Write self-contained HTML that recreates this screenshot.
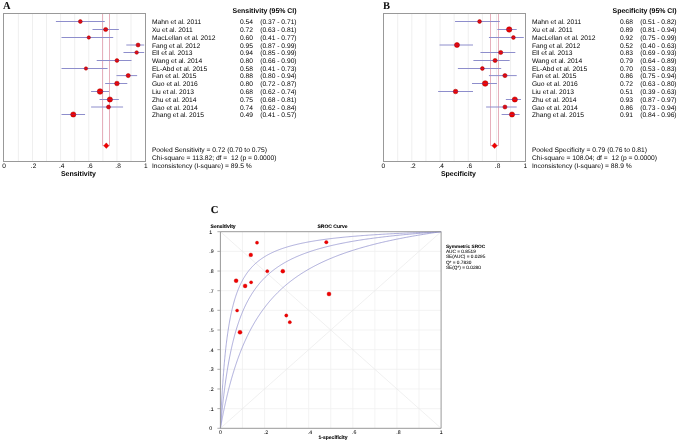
<!DOCTYPE html>
<html><head><meta charset="utf-8"><style>
html,body{margin:0;padding:0;background:#fff;}
body{width:677px;height:442px;overflow:hidden;}
svg{display:block;will-change:transform;filter:blur(0.3px);}
text{text-rendering:geometricPrecision;}
text{font-family:"Liberation Sans",sans-serif;fill:#000000;}
.lt{font-family:"Liberation Serif",serif;font-weight:bold;font-size:10.5px;fill:#111;}
.tx{font-size:6.7px;}
.hd{font-size:6.95px;font-weight:bold;text-anchor:end;}
.tk{font-size:6.5px;text-anchor:middle;}
.axl{font-size:7px;font-weight:bold;text-anchor:middle;}
.ty{font-size:5.2px;stroke:#000;stroke-width:0.04px;}
.tx2{font-size:5.2px;text-anchor:middle;stroke:#000;stroke-width:0.04px;}
.sb{font-size:5px;font-weight:bold;stroke:#000;stroke-width:0.08px;}
.lg{font-size:4.75px;stroke:#222;stroke-width:0.05px;}
</style></head><body>
<svg width="677" height="442" viewBox="0 0 677 442">
<rect width="677" height="442" fill="#fff"/>
<text x="3.0" y="8.5" class="lt">A</text>
<line x1="18.38" y1="13.5" x2="18.38" y2="161.5" stroke="#efefef" stroke-width="1"/>
<line x1="32.46" y1="13.5" x2="32.46" y2="161.5" stroke="#efefef" stroke-width="1"/>
<line x1="46.54" y1="13.5" x2="46.54" y2="161.5" stroke="#efefef" stroke-width="1"/>
<line x1="60.62" y1="13.5" x2="60.62" y2="161.5" stroke="#efefef" stroke-width="1"/>
<line x1="74.70" y1="13.5" x2="74.70" y2="161.5" stroke="#efefef" stroke-width="1"/>
<line x1="88.78" y1="13.5" x2="88.78" y2="161.5" stroke="#efefef" stroke-width="1"/>
<line x1="102.86" y1="13.5" x2="102.86" y2="161.5" stroke="#efefef" stroke-width="1"/>
<line x1="116.94" y1="13.5" x2="116.94" y2="161.5" stroke="#efefef" stroke-width="1"/>
<line x1="131.02" y1="13.5" x2="131.02" y2="161.5" stroke="#efefef" stroke-width="1"/>
<path d="M102.50 13.5 V145.7 H109.50 V13.5" fill="none" stroke="#e6b0bc" stroke-width="1"/>
<rect x="3.5" y="13.5" width="142.0" height="148.0" fill="none" stroke="#999999" stroke-width="1"/>
<line x1="56.40" y1="21.50" x2="104.27" y2="21.50" stroke="#8e8ecc" stroke-width="1" stroke-linecap="square"/>
<circle cx="80.33" cy="21.50" r="1.90" fill="#f00000" stroke="#a00000" stroke-width="0.5"/>
<line x1="78.13" y1="21.50" x2="82.53" y2="21.50" stroke="#6040a0" stroke-width="1" opacity="0.35"/>
<line x1="93.00" y1="29.50" x2="118.35" y2="29.50" stroke="#8e8ecc" stroke-width="1" stroke-linecap="square"/>
<circle cx="105.68" cy="29.50" r="2.10" fill="#f00000" stroke="#a00000" stroke-width="0.5"/>
<line x1="103.28" y1="29.50" x2="108.08" y2="29.50" stroke="#6040a0" stroke-width="1" opacity="0.35"/>
<line x1="62.03" y1="37.50" x2="112.72" y2="37.50" stroke="#8e8ecc" stroke-width="1" stroke-linecap="square"/>
<circle cx="88.78" cy="37.50" r="1.70" fill="#f00000" stroke="#a00000" stroke-width="0.5"/>
<line x1="86.78" y1="37.50" x2="90.78" y2="37.50" stroke="#6040a0" stroke-width="1" opacity="0.35"/>
<line x1="126.80" y1="45.00" x2="143.69" y2="45.00" stroke="#8e8ecc" stroke-width="1" stroke-linecap="square"/>
<circle cx="138.06" cy="45.00" r="2.00" fill="#f00000" stroke="#a00000" stroke-width="0.5"/>
<line x1="135.76" y1="45.00" x2="140.36" y2="45.00" stroke="#6040a0" stroke-width="1" opacity="0.35"/>
<line x1="123.98" y1="52.50" x2="143.69" y2="52.50" stroke="#8e8ecc" stroke-width="1" stroke-linecap="square"/>
<circle cx="136.65" cy="52.50" r="1.80" fill="#f00000" stroke="#a00000" stroke-width="0.5"/>
<line x1="134.55" y1="52.50" x2="138.75" y2="52.50" stroke="#6040a0" stroke-width="1" opacity="0.35"/>
<line x1="97.23" y1="60.50" x2="131.02" y2="60.50" stroke="#8e8ecc" stroke-width="1" stroke-linecap="square"/>
<circle cx="116.94" cy="60.50" r="1.90" fill="#f00000" stroke="#a00000" stroke-width="0.5"/>
<line x1="114.74" y1="60.50" x2="119.14" y2="60.50" stroke="#6040a0" stroke-width="1" opacity="0.35"/>
<line x1="62.03" y1="68.50" x2="107.08" y2="68.50" stroke="#8e8ecc" stroke-width="1" stroke-linecap="square"/>
<circle cx="85.96" cy="68.50" r="1.70" fill="#f00000" stroke="#a00000" stroke-width="0.5"/>
<line x1="83.96" y1="68.50" x2="87.96" y2="68.50" stroke="#6040a0" stroke-width="1" opacity="0.35"/>
<line x1="116.94" y1="75.60" x2="136.65" y2="75.60" stroke="#8e8ecc" stroke-width="1" stroke-linecap="square"/>
<circle cx="128.20" cy="75.60" r="2.10" fill="#f00000" stroke="#a00000" stroke-width="0.5"/>
<line x1="125.80" y1="75.60" x2="130.60" y2="75.60" stroke="#6040a0" stroke-width="1" opacity="0.35"/>
<line x1="105.68" y1="83.50" x2="126.80" y2="83.50" stroke="#8e8ecc" stroke-width="1" stroke-linecap="square"/>
<circle cx="116.94" cy="83.50" r="2.30" fill="#f00000" stroke="#a00000" stroke-width="0.5"/>
<line x1="114.34" y1="83.50" x2="119.54" y2="83.50" stroke="#6040a0" stroke-width="1" opacity="0.35"/>
<line x1="91.60" y1="91.50" x2="108.49" y2="91.50" stroke="#8e8ecc" stroke-width="1" stroke-linecap="square"/>
<circle cx="100.04" cy="91.50" r="2.80" fill="#f00000" stroke="#a00000" stroke-width="0.5"/>
<line x1="96.94" y1="91.50" x2="103.14" y2="91.50" stroke="#6040a0" stroke-width="1" opacity="0.35"/>
<line x1="100.04" y1="99.50" x2="118.35" y2="99.50" stroke="#8e8ecc" stroke-width="1" stroke-linecap="square"/>
<circle cx="109.90" cy="99.50" r="2.60" fill="#f00000" stroke="#a00000" stroke-width="0.5"/>
<line x1="107.00" y1="99.50" x2="112.80" y2="99.50" stroke="#6040a0" stroke-width="1" opacity="0.35"/>
<line x1="91.60" y1="107.00" x2="122.57" y2="107.00" stroke="#8e8ecc" stroke-width="1" stroke-linecap="square"/>
<circle cx="108.49" cy="107.00" r="2.00" fill="#f00000" stroke="#a00000" stroke-width="0.5"/>
<line x1="106.19" y1="107.00" x2="110.79" y2="107.00" stroke="#6040a0" stroke-width="1" opacity="0.35"/>
<line x1="62.03" y1="114.50" x2="84.56" y2="114.50" stroke="#8e8ecc" stroke-width="1" stroke-linecap="square"/>
<circle cx="73.29" cy="114.50" r="2.60" fill="#f00000" stroke="#a00000" stroke-width="0.5"/>
<line x1="70.39" y1="114.50" x2="76.19" y2="114.50" stroke="#6040a0" stroke-width="1" opacity="0.35"/>
<path d="M103.65 145.7 L106.30 142.85 L108.95 145.7 L106.30 148.54999999999998 Z" fill="#f00000" stroke="#c00000" stroke-width="0.3"/>
<text x="4.10" y="167.8" class="tk">0</text>
<text x="33.56" y="167.8" class="tk">.2</text>
<text x="61.72" y="167.8" class="tk">.4</text>
<text x="89.88" y="167.8" class="tk">.6</text>
<text x="118.04" y="167.8" class="tk">.8</text>
<text x="145.70" y="167.8" class="tk">1</text>
<text x="78.40" y="175.6" class="axl">Sensitivity</text>
<text x="296.6" y="12.9" class="hd">Sensitivity (95% CI)</text>
<text x="151.9" y="24.10" class="tx">Mahn et al. 2011</text>
<text x="239.9" y="24.10" class="tx">0.54</text>
<text x="296.6" y="24.10" class="tx" text-anchor="end">(0.37 - 0.71)</text>
<text x="151.9" y="32.10" class="tx">Xu et al. 2011</text>
<text x="239.9" y="32.10" class="tx">0.72</text>
<text x="296.6" y="32.10" class="tx" text-anchor="end">(0.63 - 0.81)</text>
<text x="151.9" y="40.10" class="tx">MacLellan et al. 2012</text>
<text x="239.9" y="40.10" class="tx">0.60</text>
<text x="296.6" y="40.10" class="tx" text-anchor="end">(0.41 - 0.77)</text>
<text x="151.9" y="47.60" class="tx">Fang et al. 2012</text>
<text x="239.9" y="47.60" class="tx">0.95</text>
<text x="296.6" y="47.60" class="tx" text-anchor="end">(0.87 - 0.99)</text>
<text x="151.9" y="55.10" class="tx">Ell et al. 2013</text>
<text x="239.9" y="55.10" class="tx">0.94</text>
<text x="296.6" y="55.10" class="tx" text-anchor="end">(0.85 - 0.99)</text>
<text x="151.9" y="63.10" class="tx">Wang et al. 2014</text>
<text x="239.9" y="63.10" class="tx">0.80</text>
<text x="296.6" y="63.10" class="tx" text-anchor="end">(0.66 - 0.90)</text>
<text x="151.9" y="71.10" class="tx">EL-Abd et al. 2015</text>
<text x="239.9" y="71.10" class="tx">0.58</text>
<text x="296.6" y="71.10" class="tx" text-anchor="end">(0.41 - 0.73)</text>
<text x="151.9" y="78.20" class="tx">Fan et al. 2015</text>
<text x="239.9" y="78.20" class="tx">0.88</text>
<text x="296.6" y="78.20" class="tx" text-anchor="end">(0.80 - 0.94)</text>
<text x="151.9" y="86.10" class="tx">Guo et al. 2016</text>
<text x="239.9" y="86.10" class="tx">0.80</text>
<text x="296.6" y="86.10" class="tx" text-anchor="end">(0.72 - 0.87)</text>
<text x="151.9" y="94.10" class="tx">Liu et al. 2013</text>
<text x="239.9" y="94.10" class="tx">0.68</text>
<text x="296.6" y="94.10" class="tx" text-anchor="end">(0.62 - 0.74)</text>
<text x="151.9" y="102.10" class="tx">Zhu et al. 2014</text>
<text x="239.9" y="102.10" class="tx">0.75</text>
<text x="296.6" y="102.10" class="tx" text-anchor="end">(0.68 - 0.81)</text>
<text x="151.9" y="109.60" class="tx">Gao et al. 2014</text>
<text x="239.9" y="109.60" class="tx">0.74</text>
<text x="296.6" y="109.60" class="tx" text-anchor="end">(0.62 - 0.84)</text>
<text x="151.9" y="117.10" class="tx">Zhang et al. 2015</text>
<text x="239.9" y="117.10" class="tx">0.49</text>
<text x="296.6" y="117.10" class="tx" text-anchor="end">(0.41 - 0.57)</text>
<text x="151.9" y="152" class="tx">Pooled Sensitivity = 0.72 (0.70 to 0.75)</text>
<text x="151.9" y="159.8" class="tx" xml:space="preserve">Chi-square = 113.82; df =  12 (p = 0.0000)</text>
<text x="151.9" y="167.5" class="tx">Inconsistency (I-square) = 89.5 %</text>
<text x="383.0" y="8.5" class="lt">B</text>
<line x1="397.71" y1="13.5" x2="397.71" y2="161.5" stroke="#efefef" stroke-width="1"/>
<line x1="411.82" y1="13.5" x2="411.82" y2="161.5" stroke="#efefef" stroke-width="1"/>
<line x1="425.93" y1="13.5" x2="425.93" y2="161.5" stroke="#efefef" stroke-width="1"/>
<line x1="440.04" y1="13.5" x2="440.04" y2="161.5" stroke="#efefef" stroke-width="1"/>
<line x1="454.15" y1="13.5" x2="454.15" y2="161.5" stroke="#efefef" stroke-width="1"/>
<line x1="468.26" y1="13.5" x2="468.26" y2="161.5" stroke="#efefef" stroke-width="1"/>
<line x1="482.37" y1="13.5" x2="482.37" y2="161.5" stroke="#efefef" stroke-width="1"/>
<line x1="496.48" y1="13.5" x2="496.48" y2="161.5" stroke="#efefef" stroke-width="1"/>
<line x1="510.59" y1="13.5" x2="510.59" y2="161.5" stroke="#efefef" stroke-width="1"/>
<path d="M490.50 13.5 V145.7 H498.50 V13.5" fill="none" stroke="#e6b0bc" stroke-width="1"/>
<rect x="383.5" y="13.5" width="142.0" height="148.0" fill="none" stroke="#999999" stroke-width="1"/>
<line x1="455.56" y1="21.50" x2="499.30" y2="21.50" stroke="#8e8ecc" stroke-width="1" stroke-linecap="square"/>
<circle cx="479.55" cy="21.50" r="1.90" fill="#f00000" stroke="#a00000" stroke-width="0.5"/>
<line x1="477.35" y1="21.50" x2="481.75" y2="21.50" stroke="#6040a0" stroke-width="1" opacity="0.35"/>
<line x1="497.89" y1="29.50" x2="516.23" y2="29.50" stroke="#8e8ecc" stroke-width="1" stroke-linecap="square"/>
<circle cx="509.18" cy="29.50" r="2.70" fill="#f00000" stroke="#a00000" stroke-width="0.5"/>
<line x1="506.18" y1="29.50" x2="512.18" y2="29.50" stroke="#6040a0" stroke-width="1" opacity="0.35"/>
<line x1="489.43" y1="37.50" x2="523.29" y2="37.50" stroke="#8e8ecc" stroke-width="1" stroke-linecap="square"/>
<circle cx="513.41" cy="37.50" r="1.90" fill="#f00000" stroke="#a00000" stroke-width="0.5"/>
<line x1="511.21" y1="37.50" x2="515.61" y2="37.50" stroke="#6040a0" stroke-width="1" opacity="0.35"/>
<line x1="440.04" y1="45.00" x2="472.49" y2="45.00" stroke="#8e8ecc" stroke-width="1" stroke-linecap="square"/>
<circle cx="456.97" cy="45.00" r="2.50" fill="#f00000" stroke="#a00000" stroke-width="0.5"/>
<line x1="454.17" y1="45.00" x2="459.77" y2="45.00" stroke="#6040a0" stroke-width="1" opacity="0.35"/>
<line x1="480.96" y1="52.50" x2="514.82" y2="52.50" stroke="#8e8ecc" stroke-width="1" stroke-linecap="square"/>
<circle cx="500.71" cy="52.50" r="2.10" fill="#f00000" stroke="#a00000" stroke-width="0.5"/>
<line x1="498.31" y1="52.50" x2="503.11" y2="52.50" stroke="#6040a0" stroke-width="1" opacity="0.35"/>
<line x1="473.90" y1="60.50" x2="509.18" y2="60.50" stroke="#8e8ecc" stroke-width="1" stroke-linecap="square"/>
<circle cx="495.07" cy="60.50" r="2.10" fill="#f00000" stroke="#a00000" stroke-width="0.5"/>
<line x1="492.67" y1="60.50" x2="497.47" y2="60.50" stroke="#6040a0" stroke-width="1" opacity="0.35"/>
<line x1="458.38" y1="68.50" x2="500.71" y2="68.50" stroke="#8e8ecc" stroke-width="1" stroke-linecap="square"/>
<circle cx="482.37" cy="68.50" r="1.90" fill="#f00000" stroke="#a00000" stroke-width="0.5"/>
<line x1="480.17" y1="68.50" x2="484.57" y2="68.50" stroke="#6040a0" stroke-width="1" opacity="0.35"/>
<line x1="489.43" y1="75.60" x2="516.23" y2="75.60" stroke="#8e8ecc" stroke-width="1" stroke-linecap="square"/>
<circle cx="504.95" cy="75.60" r="2.10" fill="#f00000" stroke="#a00000" stroke-width="0.5"/>
<line x1="502.55" y1="75.60" x2="507.35" y2="75.60" stroke="#6040a0" stroke-width="1" opacity="0.35"/>
<line x1="472.49" y1="83.50" x2="496.48" y2="83.50" stroke="#8e8ecc" stroke-width="1" stroke-linecap="square"/>
<circle cx="485.19" cy="83.50" r="2.80" fill="#f00000" stroke="#a00000" stroke-width="0.5"/>
<line x1="482.09" y1="83.50" x2="488.29" y2="83.50" stroke="#6040a0" stroke-width="1" opacity="0.35"/>
<line x1="438.63" y1="91.50" x2="472.49" y2="91.50" stroke="#8e8ecc" stroke-width="1" stroke-linecap="square"/>
<circle cx="455.56" cy="91.50" r="2.30" fill="#f00000" stroke="#a00000" stroke-width="0.5"/>
<line x1="452.96" y1="91.50" x2="458.16" y2="91.50" stroke="#6040a0" stroke-width="1" opacity="0.35"/>
<line x1="506.36" y1="99.50" x2="520.47" y2="99.50" stroke="#8e8ecc" stroke-width="1" stroke-linecap="square"/>
<circle cx="514.82" cy="99.50" r="2.60" fill="#f00000" stroke="#a00000" stroke-width="0.5"/>
<line x1="511.92" y1="99.50" x2="517.72" y2="99.50" stroke="#6040a0" stroke-width="1" opacity="0.35"/>
<line x1="486.60" y1="107.00" x2="516.23" y2="107.00" stroke="#8e8ecc" stroke-width="1" stroke-linecap="square"/>
<circle cx="504.95" cy="107.00" r="2.00" fill="#f00000" stroke="#a00000" stroke-width="0.5"/>
<line x1="502.65" y1="107.00" x2="507.25" y2="107.00" stroke="#6040a0" stroke-width="1" opacity="0.35"/>
<line x1="502.12" y1="114.50" x2="519.06" y2="114.50" stroke="#8e8ecc" stroke-width="1" stroke-linecap="square"/>
<circle cx="512.00" cy="114.50" r="2.60" fill="#f00000" stroke="#a00000" stroke-width="0.5"/>
<line x1="509.10" y1="114.50" x2="514.90" y2="114.50" stroke="#6040a0" stroke-width="1" opacity="0.35"/>
<path d="M491.95 145.7 L494.60 142.85 L497.25 145.7 L494.60 148.54999999999998 Z" fill="#f00000" stroke="#c00000" stroke-width="0.3"/>
<text x="383.40" y="167.8" class="tk">0</text>
<text x="412.92" y="167.8" class="tk">.2</text>
<text x="441.14" y="167.8" class="tk">.4</text>
<text x="469.36" y="167.8" class="tk">.6</text>
<text x="497.58" y="167.8" class="tk">.8</text>
<text x="525.30" y="167.8" class="tk">1</text>
<text x="458.40" y="175.6" class="axl">Specificity</text>
<text x="676.6" y="12.9" class="hd">Specificity (95% CI)</text>
<text x="531.9" y="24.10" class="tx">Mahn et al. 2011</text>
<text x="619.9" y="24.10" class="tx">0.68</text>
<text x="676.6" y="24.10" class="tx" text-anchor="end">(0.51 - 0.82)</text>
<text x="531.9" y="32.10" class="tx">Xu et al. 2011</text>
<text x="619.9" y="32.10" class="tx">0.89</text>
<text x="676.6" y="32.10" class="tx" text-anchor="end">(0.81 - 0.94)</text>
<text x="531.9" y="40.10" class="tx">MacLellan et al. 2012</text>
<text x="619.9" y="40.10" class="tx">0.92</text>
<text x="676.6" y="40.10" class="tx" text-anchor="end">(0.75 - 0.99)</text>
<text x="531.9" y="47.60" class="tx">Fang et al. 2012</text>
<text x="619.9" y="47.60" class="tx">0.52</text>
<text x="676.6" y="47.60" class="tx" text-anchor="end">(0.40 - 0.63)</text>
<text x="531.9" y="55.10" class="tx">Ell et al. 2013</text>
<text x="619.9" y="55.10" class="tx">0.83</text>
<text x="676.6" y="55.10" class="tx" text-anchor="end">(0.69 - 0.93)</text>
<text x="531.9" y="63.10" class="tx">Wang et al. 2014</text>
<text x="619.9" y="63.10" class="tx">0.79</text>
<text x="676.6" y="63.10" class="tx" text-anchor="end">(0.64 - 0.89)</text>
<text x="531.9" y="71.10" class="tx">EL-Abd et al. 2015</text>
<text x="619.9" y="71.10" class="tx">0.70</text>
<text x="676.6" y="71.10" class="tx" text-anchor="end">(0.53 - 0.83)</text>
<text x="531.9" y="78.20" class="tx">Fan et al. 2015</text>
<text x="619.9" y="78.20" class="tx">0.86</text>
<text x="676.6" y="78.20" class="tx" text-anchor="end">(0.75 - 0.94)</text>
<text x="531.9" y="86.10" class="tx">Guo et al. 2016</text>
<text x="619.9" y="86.10" class="tx">0.72</text>
<text x="676.6" y="86.10" class="tx" text-anchor="end">(0.63 - 0.80)</text>
<text x="531.9" y="94.10" class="tx">Liu et al. 2013</text>
<text x="619.9" y="94.10" class="tx">0.51</text>
<text x="676.6" y="94.10" class="tx" text-anchor="end">(0.39 - 0.63)</text>
<text x="531.9" y="102.10" class="tx">Zhu et al. 2014</text>
<text x="619.9" y="102.10" class="tx">0.93</text>
<text x="676.6" y="102.10" class="tx" text-anchor="end">(0.87 - 0.97)</text>
<text x="531.9" y="109.60" class="tx">Gao et al. 2014</text>
<text x="619.9" y="109.60" class="tx">0.86</text>
<text x="676.6" y="109.60" class="tx" text-anchor="end">(0.73 - 0.94)</text>
<text x="531.9" y="117.10" class="tx">Zhang et al. 2015</text>
<text x="619.9" y="117.10" class="tx">0.91</text>
<text x="676.6" y="117.10" class="tx" text-anchor="end">(0.84 - 0.96)</text>
<text x="531.9" y="152" class="tx">Pooled Specificity = 0.79 (0.76 to 0.81)</text>
<text x="531.9" y="159.8" class="tx" xml:space="preserve">Chi-square = 108.04; df =  12 (p = 0.0000)</text>
<text x="531.9" y="167.5" class="tx">Inconsistency (I-square) = 88.9 %</text>
<text x="210.7" y="213.0" class="lt" stroke="#111" stroke-width="0.15">C</text>
<line x1="242.47" y1="231.7" x2="242.47" y2="428.3" stroke="#f0f0f0" stroke-width="0.8"/>
<line x1="220.4" y1="408.64" x2="441.1" y2="408.64" stroke="#f0f0f0" stroke-width="0.8"/>
<line x1="264.54" y1="231.7" x2="264.54" y2="428.3" stroke="#f0f0f0" stroke-width="0.8"/>
<line x1="220.4" y1="388.98" x2="441.1" y2="388.98" stroke="#f0f0f0" stroke-width="0.8"/>
<line x1="286.61" y1="231.7" x2="286.61" y2="428.3" stroke="#f0f0f0" stroke-width="0.8"/>
<line x1="220.4" y1="369.32" x2="441.1" y2="369.32" stroke="#f0f0f0" stroke-width="0.8"/>
<line x1="308.68" y1="231.7" x2="308.68" y2="428.3" stroke="#f0f0f0" stroke-width="0.8"/>
<line x1="220.4" y1="349.66" x2="441.1" y2="349.66" stroke="#f0f0f0" stroke-width="0.8"/>
<line x1="330.75" y1="231.7" x2="330.75" y2="428.3" stroke="#f0f0f0" stroke-width="0.8"/>
<line x1="220.4" y1="330.00" x2="441.1" y2="330.00" stroke="#f0f0f0" stroke-width="0.8"/>
<line x1="352.82" y1="231.7" x2="352.82" y2="428.3" stroke="#f0f0f0" stroke-width="0.8"/>
<line x1="220.4" y1="310.34" x2="441.1" y2="310.34" stroke="#f0f0f0" stroke-width="0.8"/>
<line x1="374.89" y1="231.7" x2="374.89" y2="428.3" stroke="#f0f0f0" stroke-width="0.8"/>
<line x1="220.4" y1="290.68" x2="441.1" y2="290.68" stroke="#f0f0f0" stroke-width="0.8"/>
<line x1="396.96" y1="231.7" x2="396.96" y2="428.3" stroke="#f0f0f0" stroke-width="0.8"/>
<line x1="220.4" y1="271.02" x2="441.1" y2="271.02" stroke="#f0f0f0" stroke-width="0.8"/>
<line x1="419.03" y1="231.7" x2="419.03" y2="428.3" stroke="#f0f0f0" stroke-width="0.8"/>
<line x1="220.4" y1="251.36" x2="441.1" y2="251.36" stroke="#f0f0f0" stroke-width="0.8"/>
<line x1="220.4" y1="428.3" x2="441.1" y2="231.7" stroke="#e6e6e6" stroke-width="0.6"/>
<line x1="220.4" y1="231.7" x2="441.1" y2="428.3" stroke="#e6e6e6" stroke-width="0.6"/>
<polyline points="220.40,428.30 220.40,428.30 220.40,428.30 220.40,428.30 220.40,428.30 220.40,428.30 220.40,428.30 220.40,428.29 220.40,428.29 220.40,428.29 220.40,428.28 220.40,428.27 220.41,428.27 220.41,428.26 220.41,428.25 220.41,428.23 220.41,428.22 220.42,428.20 220.42,428.19 220.42,428.17 220.43,428.14 220.43,428.12 220.44,428.09 220.44,428.06 220.45,428.03 220.45,428.00 220.46,427.96 220.47,427.92 220.48,427.87 220.48,427.82 220.49,427.77 220.50,427.72 220.51,427.66 220.52,427.60 220.54,427.53 220.55,427.47 220.56,427.39 220.57,427.31 220.59,427.23 220.60,427.15 220.62,427.06 220.64,426.96 220.66,426.86 220.67,426.76 220.69,426.65 220.71,426.53 220.74,426.41 220.76,426.29 220.78,426.16 220.81,426.02 220.83,425.88 220.86,425.74 220.88,425.58 220.91,425.43 220.94,425.26 220.97,425.09 221.01,424.92 221.04,424.74 221.07,424.55 221.11,424.36 221.14,424.16 221.18,423.95 221.22,423.74 221.26,423.52 221.30,423.29 221.35,423.06 221.39,422.82 221.44,422.57 221.48,422.31 221.53,422.05 221.58,421.79 221.63,421.51 221.69,421.23 221.74,420.94 221.80,420.64 221.85,420.34 221.91,420.03 221.97,419.71 222.04,419.38 222.10,419.05 222.17,418.71 222.23,418.36 222.30,418.00 222.37,417.64 222.44,417.27 222.52,416.89 222.59,416.50 222.67,416.11 222.75,415.71 222.83,415.30 222.91,414.88 223.00,414.45 223.09,414.02 223.17,413.58 223.26,413.13 223.36,412.67 223.45,412.21 223.55,411.74 223.65,411.26 223.75,410.77 223.85,410.27 223.95,409.77 224.06,409.26 224.17,408.74 224.28,408.22 224.39,407.68 224.51,407.14 224.62,406.59 224.74,406.04 224.87,405.48 224.99,404.90 225.12,404.33 225.24,403.74 225.38,403.15 225.51,402.55 225.64,401.94 225.78,401.33 225.92,400.71 226.07,400.08 226.21,399.45 226.36,398.81 226.51,398.16 226.66,397.51 226.82,396.85 226.97,396.18 227.14,395.51 227.30,394.83 227.46,394.14 227.63,393.45 227.80,392.75 227.98,392.05 228.15,391.34 228.33,390.62 228.51,389.90 228.70,389.18 228.88,388.44 229.07,387.71 229.27,386.97 229.46,386.22 229.66,385.47 229.86,384.71 230.07,383.95 230.27,383.18 230.48,382.41 230.70,381.63 230.91,380.85 231.13,380.07 231.35,379.28 231.58,378.49 231.81,377.69 232.04,376.89 232.27,376.09 232.51,375.28 232.75,374.47 232.99,373.66 233.24,372.84 233.49,372.02 233.75,371.20 234.00,370.38 234.26,369.55 234.52,368.72 234.79,367.88 235.06,367.05 235.33,366.21 235.61,365.37 235.89,364.53 236.17,363.69 236.46,362.84 236.75,361.99 237.04,361.15 237.34,360.30 237.64,359.45 237.95,358.59 238.26,357.74 238.57,356.89 238.88,356.03 239.20,355.18 239.52,354.32 239.85,353.46 240.18,352.61 240.51,351.75 240.85,350.89 241.19,350.04 241.53,349.18 241.88,348.32 242.23,347.46 242.59,346.61 242.95,345.75 243.31,344.90 243.68,344.04 244.05,343.19 244.43,342.34 244.81,341.48 245.19,340.63 245.58,339.78 245.97,338.93 246.37,338.09 246.76,337.24 247.17,336.39 247.58,335.55 247.99,334.71 248.40,333.87 248.82,333.03 249.25,332.20 249.68,331.36 250.11,330.53 250.55,329.70 250.99,328.87 251.43,328.05 251.88,327.22 252.34,326.40 252.79,325.58 253.26,324.77 253.72,323.95 254.20,323.14 254.67,322.33 255.15,321.53 255.64,320.73 256.13,319.93 256.62,319.13 257.12,318.33 257.62,317.54 258.13,316.76 258.64,315.97 259.16,315.19 259.68,314.41 260.21,313.63 260.74,312.86 261.27,312.09 261.81,311.33 262.36,310.56 262.91,309.81 263.46,309.05 264.02,308.30 264.58,307.55 265.15,306.80 265.73,306.06 266.31,305.33 266.89,304.59 267.48,303.86 268.07,303.13 268.67,302.41 269.27,301.69 269.88,300.98 270.49,300.26 271.11,299.55 271.74,298.85 272.37,298.15 273.00,297.45 273.64,296.76 274.28,296.07 274.93,295.38 275.59,294.70 276.24,294.03 276.91,293.35 277.58,292.68 278.26,292.02 278.94,291.35 279.62,290.70 280.31,290.04 281.01,289.39 281.71,288.74 282.42,288.10 283.13,287.46 283.85,286.83 284.57,286.20 285.30,285.57 286.04,284.95 286.78,284.33 287.52,283.71 288.28,283.10 289.03,282.50 289.80,281.89 290.56,281.29 291.34,280.70 292.12,280.11 292.90,279.52 293.69,278.93 294.49,278.35 295.29,277.78 296.10,277.21 296.91,276.64 297.73,276.07 298.56,275.51 299.39,274.96 300.23,274.40 301.07,273.85 301.92,273.31 302.78,272.77 303.64,272.23 304.50,271.69 305.38,271.16 306.26,270.64 307.14,270.11 308.03,269.59 308.93,269.08 309.83,268.56 310.74,268.06 311.66,267.55 312.58,267.05 313.51,266.55 314.44,266.06 315.38,265.57 316.33,265.08 317.28,264.60 318.24,264.12 319.21,263.64 320.18,263.17 321.16,262.70 322.14,262.23 323.13,261.77 324.13,261.31 325.13,260.85 326.14,260.40 327.16,259.95 328.18,259.50 329.21,259.06 330.25,258.62 331.29,258.19 332.34,257.75 333.40,257.32 334.46,256.90 335.53,256.47 336.61,256.05 337.69,255.64 338.78,255.22 339.87,254.81 340.98,254.40 342.09,254.00 343.20,253.60 344.33,253.20 345.46,252.80 346.59,252.41 347.74,252.02 348.89,251.64 350.05,251.25 351.21,250.87 352.38,250.49 353.56,250.12 354.74,249.75 355.94,249.38 357.14,249.01 358.34,248.65 359.56,248.29 360.78,247.93 362.01,247.57 363.24,247.22 364.48,246.87 365.73,246.52 366.99,246.18 368.25,245.84 369.52,245.50 370.80,245.16 372.09,244.83 373.38,244.49 374.68,244.16 375.99,243.84 377.30,243.51 378.62,243.19 379.95,242.87 381.29,242.56 382.63,242.24 383.99,241.93 385.35,241.62 386.71,241.31 388.09,241.01 389.47,240.71 390.86,240.41 392.26,240.11 393.66,239.81 395.07,239.52 396.49,239.23 397.92,238.94 399.36,238.66 400.80,238.37 402.25,238.09 403.71,237.81 405.18,237.53 406.65,237.26 408.13,236.98 409.62,236.71 411.12,236.44 412.63,236.17 414.14,235.91 415.66,235.65 417.19,235.39 418.73,235.13 420.27,234.87 421.83,234.61 423.39,234.36 424.96,234.11 426.54,233.86 428.12,233.61 429.71,233.37 431.32,233.12 432.93,232.88 434.54,232.64 436.17,232.40 437.81,232.17 439.45,231.93 441.10,231.70" fill="none" stroke="#8282c8" stroke-width="0.65"/>
<polyline points="220.40,428.30 220.40,428.30 220.40,428.30 220.40,428.30 220.40,428.30 220.40,428.30 220.40,428.29 220.40,428.29 220.40,428.28 220.40,428.27 220.40,428.26 220.40,428.25 220.41,428.23 220.41,428.21 220.41,428.19 220.41,428.17 220.41,428.14 220.42,428.10 220.42,428.07 220.42,428.03 220.43,427.98 220.43,427.93 220.44,427.88 220.44,427.81 220.45,427.75 220.45,427.68 220.46,427.60 220.47,427.52 220.48,427.43 220.48,427.33 220.49,427.23 220.50,427.12 220.51,427.00 220.52,426.87 220.54,426.74 220.55,426.60 220.56,426.45 220.57,426.29 220.59,426.13 220.60,425.95 220.62,425.77 220.64,425.58 220.66,425.38 220.67,425.17 220.69,424.95 220.71,424.72 220.74,424.48 220.76,424.23 220.78,423.97 220.81,423.70 220.83,423.42 220.86,423.13 220.88,422.82 220.91,422.51 220.94,422.19 220.97,421.85 221.01,421.50 221.04,421.15 221.07,420.78 221.11,420.39 221.14,420.00 221.18,419.60 221.22,419.18 221.26,418.75 221.30,418.31 221.35,417.86 221.39,417.40 221.44,416.92 221.48,416.43 221.53,415.93 221.58,415.42 221.63,414.89 221.69,414.36 221.74,413.81 221.80,413.25 221.85,412.67 221.91,412.09 221.97,411.49 222.04,410.88 222.10,410.26 222.17,409.63 222.23,408.98 222.30,408.33 222.37,407.66 222.44,406.98 222.52,406.29 222.59,405.58 222.67,404.87 222.75,404.15 222.83,403.41 222.91,402.67 223.00,401.91 223.09,401.14 223.17,400.36 223.26,399.57 223.36,398.78 223.45,397.97 223.55,397.15 223.65,396.32 223.75,395.49 223.85,394.64 223.95,393.79 224.06,392.92 224.17,392.05 224.28,391.17 224.39,390.28 224.51,389.39 224.62,388.48 224.74,387.57 224.87,386.65 224.99,385.73 225.12,384.80 225.24,383.86 225.38,382.91 225.51,381.96 225.64,381.00 225.78,380.04 225.92,379.07 226.07,378.10 226.21,377.12 226.36,376.14 226.51,375.15 226.66,374.16 226.82,373.17 226.97,372.17 227.14,371.17 227.30,370.16 227.46,369.15 227.63,368.14 227.80,367.13 227.98,366.12 228.15,365.10 228.33,364.08 228.51,363.06 228.70,362.04 228.88,361.02 229.07,359.99 229.27,358.97 229.46,357.95 229.66,356.92 229.86,355.90 230.07,354.87 230.27,353.85 230.48,352.83 230.70,351.81 230.91,350.79 231.13,349.77 231.35,348.75 231.58,347.73 231.81,346.72 232.04,345.71 232.27,344.70 232.51,343.69 232.75,342.68 232.99,341.68 233.24,340.68 233.49,339.68 233.75,338.69 234.00,337.70 234.26,336.71 234.52,335.73 234.79,334.75 235.06,333.78 235.33,332.80 235.61,331.84 235.89,330.87 236.17,329.92 236.46,328.96 236.75,328.01 237.04,327.07 237.34,326.13 237.64,325.19 237.95,324.26 238.26,323.33 238.57,322.41 238.88,321.50 239.20,320.59 239.52,319.68 239.85,318.78 240.18,317.89 240.51,317.00 240.85,316.12 241.19,315.24 241.53,314.37 241.88,313.50 242.23,312.64 242.59,311.79 242.95,310.94 243.31,310.10 243.68,309.26 244.05,308.43 244.43,307.61 244.81,306.79 245.19,305.98 245.58,305.17 245.97,304.37 246.37,303.58 246.76,302.79 247.17,302.01 247.58,301.23 247.99,300.46 248.40,299.70 248.82,298.94 249.25,298.19 249.68,297.45 250.11,296.71 250.55,295.97 250.99,295.25 251.43,294.53 251.88,293.81 252.34,293.10 252.79,292.40 253.26,291.71 253.72,291.02 254.20,290.33 254.67,289.65 255.15,288.98 255.64,288.32 256.13,287.66 256.62,287.00 257.12,286.35 257.62,285.71 258.13,285.07 258.64,284.44 259.16,283.82 259.68,283.20 260.21,282.58 260.74,281.98 261.27,281.37 261.81,280.78 262.36,280.19 262.91,279.60 263.46,279.02 264.02,278.45 264.58,277.88 265.15,277.31 265.73,276.76 266.31,276.20 266.89,275.65 267.48,275.11 268.07,274.58 268.67,274.04 269.27,273.52 269.88,272.99 270.49,272.48 271.11,271.97 271.74,271.46 272.37,270.96 273.00,270.46 273.64,269.97 274.28,269.48 274.93,269.00 275.59,268.52 276.24,268.05 276.91,267.58 277.58,267.12 278.26,266.66 278.94,266.21 279.62,265.76 280.31,265.31 281.01,264.87 281.71,264.43 282.42,264.00 283.13,263.57 283.85,263.15 284.57,262.73 285.30,262.32 286.04,261.91 286.78,261.50 287.52,261.10 288.28,260.70 289.03,260.30 289.80,259.91 290.56,259.53 291.34,259.14 292.12,258.76 292.90,258.39 293.69,258.02 294.49,257.65 295.29,257.28 296.10,256.92 296.91,256.57 297.73,256.21 298.56,255.86 299.39,255.52 300.23,255.18 301.07,254.84 301.92,254.50 302.78,254.17 303.64,253.84 304.50,253.51 305.38,253.19 306.26,252.87 307.14,252.56 308.03,252.24 308.93,251.93 309.83,251.63 310.74,251.32 311.66,251.02 312.58,250.72 313.51,250.43 314.44,250.14 315.38,249.85 316.33,249.56 317.28,249.28 318.24,249.00 319.21,248.72 320.18,248.45 321.16,248.18 322.14,247.91 323.13,247.64 324.13,247.38 325.13,247.12 326.14,246.86 327.16,246.60 328.18,246.35 329.21,246.10 330.25,245.85 331.29,245.60 332.34,245.36 333.40,245.12 334.46,244.88 335.53,244.64 336.61,244.41 337.69,244.17 338.78,243.94 339.87,243.72 340.98,243.49 342.09,243.27 343.20,243.05 344.33,242.83 345.46,242.61 346.59,242.40 347.74,242.19 348.89,241.98 350.05,241.77 351.21,241.56 352.38,241.36 353.56,241.15 354.74,240.95 355.94,240.76 357.14,240.56 358.34,240.36 359.56,240.17 360.78,239.98 362.01,239.79 363.24,239.60 364.48,239.42 365.73,239.23 366.99,239.05 368.25,238.87 369.52,238.69 370.80,238.52 372.09,238.34 373.38,238.17 374.68,238.00 375.99,237.83 377.30,237.66 378.62,237.49 379.95,237.32 381.29,237.16 382.63,237.00 383.99,236.84 385.35,236.68 386.71,236.52 388.09,236.36 389.47,236.21 390.86,236.05 392.26,235.90 393.66,235.75 395.07,235.60 396.49,235.45 397.92,235.31 399.36,235.16 400.80,235.02 402.25,234.88 403.71,234.73 405.18,234.59 406.65,234.46 408.13,234.32 409.62,234.18 411.12,234.05 412.63,233.91 414.14,233.78 415.66,233.65 417.19,233.52 418.73,233.39 420.27,233.26 421.83,233.13 423.39,233.01 424.96,232.88 426.54,232.76 428.12,232.64 429.71,232.52 431.32,232.40 432.93,232.28 434.54,232.16 436.17,232.04 437.81,231.93 439.45,231.81 441.10,231.70" fill="none" stroke="#8282c8" stroke-width="0.65"/>
<polyline points="220.40,428.30 220.40,428.30 220.40,428.30 220.40,428.30 220.40,428.29 220.40,428.29 220.40,428.28 220.40,428.27 220.40,428.26 220.40,428.24 220.40,428.22 220.40,428.19 220.41,428.15 220.41,428.12 220.41,428.07 220.41,428.02 220.41,427.96 220.42,427.89 220.42,427.81 220.42,427.72 220.43,427.63 220.43,427.52 220.44,427.41 220.44,427.28 220.45,427.14 220.45,426.99 220.46,426.83 220.47,426.66 220.48,426.47 220.48,426.27 220.49,426.05 220.50,425.82 220.51,425.58 220.52,425.32 220.54,425.05 220.55,424.76 220.56,424.45 220.57,424.13 220.59,423.79 220.60,423.43 220.62,423.05 220.64,422.66 220.66,422.25 220.67,421.82 220.69,421.38 220.71,420.91 220.74,420.43 220.76,419.92 220.78,419.40 220.81,418.86 220.83,418.30 220.86,417.72 220.88,417.12 220.91,416.50 220.94,415.86 220.97,415.20 221.01,414.52 221.04,413.83 221.07,413.11 221.11,412.37 221.14,411.62 221.18,410.84 221.22,410.04 221.26,409.23 221.30,408.40 221.35,407.55 221.39,406.68 221.44,405.79 221.48,404.88 221.53,403.96 221.58,403.02 221.63,402.06 221.69,401.09 221.74,400.10 221.80,399.09 221.85,398.07 221.91,397.03 221.97,395.98 222.04,394.91 222.10,393.83 222.17,392.74 222.23,391.63 222.30,390.51 222.37,389.37 222.44,388.23 222.52,387.08 222.59,385.91 222.67,384.73 222.75,383.55 222.83,382.35 222.91,381.15 223.00,379.93 223.09,378.71 223.17,377.49 223.26,376.25 223.36,375.01 223.45,373.76 223.55,372.51 223.65,371.26 223.75,370.00 223.85,368.73 223.95,367.47 224.06,366.20 224.17,364.93 224.28,363.65 224.39,362.38 224.51,361.10 224.62,359.83 224.74,358.55 224.87,357.28 224.99,356.00 225.12,354.73 225.24,353.46 225.38,352.19 225.51,350.93 225.64,349.66 225.78,348.40 225.92,347.15 226.07,345.90 226.21,344.65 226.36,343.41 226.51,342.17 226.66,340.94 226.82,339.72 226.97,338.50 227.14,337.28 227.30,336.08 227.46,334.88 227.63,333.68 227.80,332.50 227.98,331.32 228.15,330.15 228.33,328.99 228.51,327.83 228.70,326.69 228.88,325.55 229.07,324.42 229.27,323.30 229.46,322.19 229.66,321.08 229.86,319.99 230.07,318.91 230.27,317.83 230.48,316.77 230.70,315.71 230.91,314.66 231.13,313.63 231.35,312.60 231.58,311.58 231.81,310.57 232.04,309.58 232.27,308.59 232.51,307.61 232.75,306.64 232.99,305.68 233.24,304.73 233.49,303.80 233.75,302.87 234.00,301.95 234.26,301.04 234.52,300.14 234.79,299.25 235.06,298.37 235.33,297.51 235.61,296.65 235.89,295.80 236.17,294.96 236.46,294.13 236.75,293.31 237.04,292.49 237.34,291.69 237.64,290.90 237.95,290.12 238.26,289.35 238.57,288.58 238.88,287.83 239.20,287.08 239.52,286.34 239.85,285.62 240.18,284.90 240.51,284.19 240.85,283.49 241.19,282.79 241.53,282.11 241.88,281.43 242.23,280.77 242.59,280.11 242.95,279.46 243.31,278.82 243.68,278.18 244.05,277.56 244.43,276.94 244.81,276.33 245.19,275.73 245.58,275.13 245.97,274.55 246.37,273.97 246.76,273.39 247.17,272.83 247.58,272.27 247.99,271.72 248.40,271.18 248.82,270.64 249.25,270.12 249.68,269.59 250.11,269.08 250.55,268.57 250.99,268.07 251.43,267.57 251.88,267.08 252.34,266.60 252.79,266.12 253.26,265.65 253.72,265.19 254.20,264.73 254.67,264.28 255.15,263.83 255.64,263.39 256.13,262.96 256.62,262.53 257.12,262.11 257.62,261.69 258.13,261.28 258.64,260.87 259.16,260.47 259.68,260.07 260.21,259.68 260.74,259.30 261.27,258.91 261.81,258.54 262.36,258.17 262.91,257.80 263.46,257.44 264.02,257.08 264.58,256.73 265.15,256.38 265.73,256.04 266.31,255.70 266.89,255.36 267.48,255.03 268.07,254.71 268.67,254.39 269.27,254.07 269.88,253.75 270.49,253.45 271.11,253.14 271.74,252.84 272.37,252.54 273.00,252.25 273.64,251.96 274.28,251.67 274.93,251.39 275.59,251.11 276.24,250.83 276.91,250.56 277.58,250.29 278.26,250.02 278.94,249.76 279.62,249.50 280.31,249.25 281.01,248.99 281.71,248.74 282.42,248.50 283.13,248.26 283.85,248.02 284.57,247.78 285.30,247.54 286.04,247.31 286.78,247.08 287.52,246.86 288.28,246.64 289.03,246.42 289.80,246.20 290.56,245.98 291.34,245.77 292.12,245.56 292.90,245.36 293.69,245.15 294.49,244.95 295.29,244.75 296.10,244.55 296.91,244.36 297.73,244.17 298.56,243.98 299.39,243.79 300.23,243.60 301.07,243.42 301.92,243.24 302.78,243.06 303.64,242.88 304.50,242.71 305.38,242.53 306.26,242.36 307.14,242.20 308.03,242.03 308.93,241.86 309.83,241.70 310.74,241.54 311.66,241.38 312.58,241.22 313.51,241.07 314.44,240.92 315.38,240.76 316.33,240.61 317.28,240.47 318.24,240.32 319.21,240.17 320.18,240.03 321.16,239.89 322.14,239.75 323.13,239.61 324.13,239.48 325.13,239.34 326.14,239.21 327.16,239.07 328.18,238.94 329.21,238.81 330.25,238.69 331.29,238.56 332.34,238.44 333.40,238.31 334.46,238.19 335.53,238.07 336.61,237.95 337.69,237.83 338.78,237.72 339.87,237.60 340.98,237.49 342.09,237.37 343.20,237.26 344.33,237.15 345.46,237.04 346.59,236.93 347.74,236.83 348.89,236.72 350.05,236.62 351.21,236.51 352.38,236.41 353.56,236.31 354.74,236.21 355.94,236.11 357.14,236.01 358.34,235.91 359.56,235.82 360.78,235.72 362.01,235.63 363.24,235.54 364.48,235.44 365.73,235.35 366.99,235.26 368.25,235.17 369.52,235.09 370.80,235.00 372.09,234.91 373.38,234.83 374.68,234.74 375.99,234.66 377.30,234.58 378.62,234.49 379.95,234.41 381.29,234.33 382.63,234.25 383.99,234.17 385.35,234.10 386.71,234.02 388.09,233.94 389.47,233.87 390.86,233.79 392.26,233.72 393.66,233.65 395.07,233.57 396.49,233.50 397.92,233.43 399.36,233.36 400.80,233.29 402.25,233.22 403.71,233.15 405.18,233.09 406.65,233.02 408.13,232.95 409.62,232.89 411.12,232.82 412.63,232.76 414.14,232.69 415.66,232.63 417.19,232.57 418.73,232.51 420.27,232.45 421.83,232.38 423.39,232.32 424.96,232.26 426.54,232.21 428.12,232.15 429.71,232.09 431.32,232.03 432.93,231.98 434.54,231.92 436.17,231.86 437.81,231.81 439.45,231.75 441.10,231.70" fill="none" stroke="#8282c8" stroke-width="0.65"/>
<path d="M220.4 231.7 H441.1 V428.3 H220.4 Z" fill="none" stroke="#999999" stroke-width="1"/>
<line x1="217.4" y1="428.30" x2="220.4" y2="428.30" stroke="#999999" stroke-width="0.8"/>
<text x="209.3" y="430.20" class="ty">0</text>
<line x1="217.4" y1="408.64" x2="220.4" y2="408.64" stroke="#999999" stroke-width="0.8"/>
<text x="209.3" y="410.54" class="ty">.1</text>
<line x1="217.4" y1="388.98" x2="220.4" y2="388.98" stroke="#999999" stroke-width="0.8"/>
<text x="209.3" y="390.88" class="ty">.2</text>
<line x1="217.4" y1="369.32" x2="220.4" y2="369.32" stroke="#999999" stroke-width="0.8"/>
<text x="209.3" y="371.22" class="ty">.3</text>
<line x1="217.4" y1="349.66" x2="220.4" y2="349.66" stroke="#999999" stroke-width="0.8"/>
<text x="209.3" y="351.56" class="ty">.4</text>
<line x1="217.4" y1="330.00" x2="220.4" y2="330.00" stroke="#999999" stroke-width="0.8"/>
<text x="209.3" y="331.90" class="ty">.5</text>
<line x1="217.4" y1="310.34" x2="220.4" y2="310.34" stroke="#999999" stroke-width="0.8"/>
<text x="209.3" y="312.24" class="ty">.6</text>
<line x1="217.4" y1="290.68" x2="220.4" y2="290.68" stroke="#999999" stroke-width="0.8"/>
<text x="209.3" y="292.58" class="ty">.7</text>
<line x1="217.4" y1="271.02" x2="220.4" y2="271.02" stroke="#999999" stroke-width="0.8"/>
<text x="209.3" y="272.92" class="ty">.8</text>
<line x1="217.4" y1="251.36" x2="220.4" y2="251.36" stroke="#999999" stroke-width="0.8"/>
<text x="209.3" y="253.26" class="ty">.9</text>
<line x1="217.4" y1="231.70" x2="220.4" y2="231.70" stroke="#999999" stroke-width="0.8"/>
<text x="209.3" y="233.60" class="ty">1</text>
<text x="220.40" y="434.2" class="tx2">0</text>
<text x="265.94" y="434.2" class="tx2">.2</text>
<text x="310.08" y="434.2" class="tx2">.4</text>
<text x="354.22" y="434.2" class="tx2">.6</text>
<text x="398.36" y="434.2" class="tx2">.8</text>
<text x="441.10" y="434.2" class="tx2">1</text>
<circle cx="289.8" cy="322.2" r="1.65" fill="#f00000" stroke="#c00000" stroke-width="0.3"/>
<circle cx="245.1" cy="285.9" r="2.0" fill="#f00000" stroke="#c00000" stroke-width="0.3"/>
<circle cx="237.1" cy="310.5" r="1.55" fill="#f00000" stroke="#c00000" stroke-width="0.3"/>
<circle cx="326.3" cy="242.2" r="1.75" fill="#f00000" stroke="#c00000" stroke-width="0.3"/>
<circle cx="257.0" cy="242.7" r="1.6" fill="#f00000" stroke="#c00000" stroke-width="0.3"/>
<circle cx="267.3" cy="271.2" r="1.6" fill="#f00000" stroke="#c00000" stroke-width="0.3"/>
<circle cx="286.3" cy="315.5" r="1.65" fill="#f00000" stroke="#c00000" stroke-width="0.3"/>
<circle cx="250.8" cy="254.9" r="1.9" fill="#f00000" stroke="#c00000" stroke-width="0.3"/>
<circle cx="282.8" cy="271.2" r="2.0" fill="#f00000" stroke="#c00000" stroke-width="0.3"/>
<circle cx="329.0" cy="294.0" r="2.05" fill="#f00000" stroke="#c00000" stroke-width="0.3"/>
<circle cx="236.1" cy="280.7" r="2.0" fill="#f00000" stroke="#c00000" stroke-width="0.3"/>
<circle cx="251.1" cy="282.3" r="1.6" fill="#f00000" stroke="#c00000" stroke-width="0.3"/>
<circle cx="240.0" cy="332.3" r="2.05" fill="#f00000" stroke="#c00000" stroke-width="0.3"/>
<text x="210.6" y="228" class="sb">Sensitivity</text>
<text x="332.5" y="228" class="sb" text-anchor="middle">SROC Curve</text>
<text x="333" y="439.3" class="sb" text-anchor="middle">1-specificity</text>
<text x="445.9" y="248" class="lg" font-weight="bold">Symmetric SROC</text>
<text x="445.9" y="253.0" class="lg">AUC = 0.8519</text>
<text x="445.9" y="258.0" class="lg">SE(AUC) = 0.0295</text>
<text x="445.9" y="263.8" class="lg">Q* = 0.7830</text>
<text x="445.9" y="269.3" class="lg">SE(Q*) = 0.0280</text>
</svg>
</body></html>
